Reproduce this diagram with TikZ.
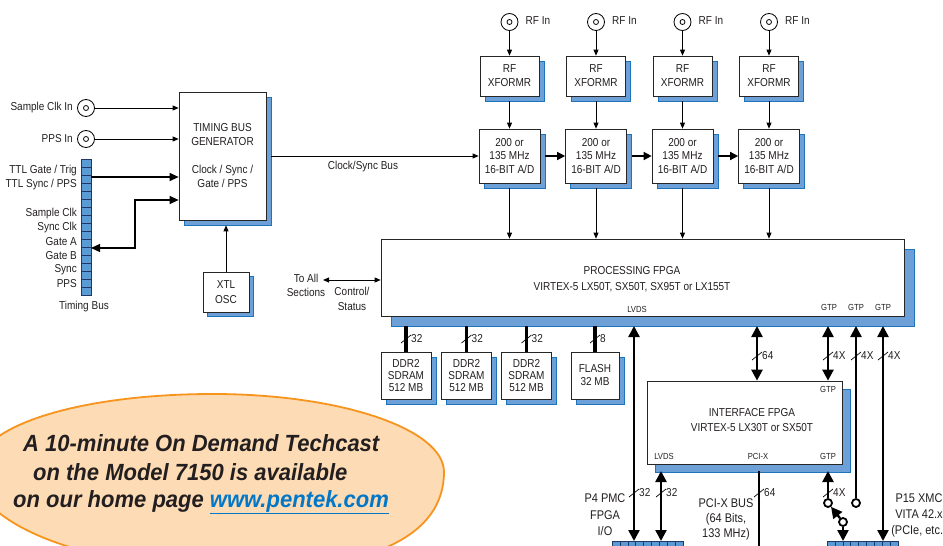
\documentclass[tikz,border=0pt]{standalone}
\usepackage{fontspec}
\setmainfont{Liberation Sans}[FakeStretch=0.87]
\newfontfamily\callfont{Liberation Sans}[FakeStretch=0.94]
\usetikzlibrary{arrows.meta,shadows,calc}
\definecolor{sblue}{RGB}{108,160,214}
\definecolor{sbord}{RGB}{28,117,188}
\definecolor{cellb}{RGB}{91,155,213}
\definecolor{celld}{RGB}{31,56,100}
\definecolor{ofill}{RGB}{253,219,180}
\definecolor{oline}{RGB}{247,148,30}
\definecolor{linkb}{RGB}{0,119,200}
\definecolor{txt}{RGB}{35,31,32}
\newcommand\mybusmark[4]{%
  \draw[line width=0.7pt] (#1-5,#2+4) -- (#1+5,#2-4);
  \node[anchor=west] (#4) at (#1+5,#2) {#3};}
\begin{document}
\begin{tikzpicture}[x=1pt,y=-1pt,
 every node/.style={font=\fontsize{11.5}{13}\selectfont,text=txt,inner sep=0pt},
 blk/.style={draw=black!85,fill=white,line width=0.7pt,align=center},
 shd/.style={drop shadow={shadow xshift=#1,shadow yshift=-#1,fill=sblue,draw=sbord,line width=0.6pt,opacity=1}},
 lbl/.style={font=\fontsize{8.8}{10}\selectfont},
 sarr/.style={line width=0.8pt,>={Triangle[length=6pt,width=5pt]}},
 marr/.style={line width=1.2pt,>={Triangle[length=9pt,width=8pt]}},
 barr/.style={line width=2.4pt,>={Triangle[length=11pt,width=11pt]}},
 dbus/.style={line width=3.6pt},
 swc/.style={circle,draw=black,line width=1.8pt,fill=white,minimum size=8pt},
 tcell/.style={draw=celld,fill=cellb,line width=0.6pt},
 conn/.style={circle,draw,line width=0.8pt,minimum size=17pt},
 callout/.style={anchor=west,font=\callfont\fontsize{23.4}{26}\selectfont\bfseries\itshape},
]
\useasboundingbox (0,0) rectangle (943,546);
\clip (0,0) rectangle (943,546);

% ---------- timing section ----------
\node[blk,shd=5pt,minimum width=87pt,minimum height=128pt,font=\fontsize{11.5}{14}\selectfont] (tbg) at (222.5,156)
  {TIMING BUS\\GENERATOR\\[14pt]Clock / Sync /\\Gate / PPS};
\node[blk,shd=4pt,minimum width=46pt,minimum height=40pt,font=\fontsize{11.5}{15}\selectfont] (xtl) at (226,292) {XTL\\OSC};
\draw[sarr,->,shorten >=5pt] (xtl.north) -- (xtl.north |- tbg.south);

\node[conn] (sci) at (86,108) {};
\draw[line width=0.8pt] (sci.center) circle (2.5pt);
\node[anchor=east] (scil) at (73,108) {Sample Clk In};
\node[conn] (ppi) at (86,139) {};
\draw[line width=0.8pt] (ppi.center) circle (2.5pt);
\node[anchor=east] (ppil) at (73,139) {PPS In};
\draw[sarr,->] (sci.east) -- (sci.east -| tbg.west);
\draw[sarr,->] (ppi.east) -- (ppi.east -| tbg.west);

\node[tcell,minimum width=10pt,minimum height=136pt] (tbus) at (86,227) {};
\foreach \k in {1,...,16} \draw[celld,line width=0.6pt] (81,159+8*\k) -- (91,159+8*\k);
\node[anchor=east] (t1) at (77,171) {TTL Gate / Trig};
\node[anchor=east] (t2) at (77,185) {TTL Sync / PPS};
\node[anchor=east] (t3) at (77,214) {Sample Clk};
\node[anchor=east] (t4) at (77,228) {Sync Clk};
\node[anchor=east] (t5) at (77,242) {Gate A};
\node[anchor=east] (t6) at (77,256) {Gate B};
\node[anchor=east] (t7) at (77,270) {Sync};
\node[anchor=east] (t8) at (77,284) {PPS};
\node (tbl) at (84,307) {Timing Bus};
\coordinate (ttl) at (91,177);
\draw[marr,->] (ttl) -- (ttl -| tbg.west);
\coordinate (gab) at (91,248);
\coordinate (gbend) at (135,200);
\draw[marr,<->] (gab) -| (gbend) -- (gbend -| tbg.west);

% ---------- processing FPGA ----------
\node[blk,shd=10pt,minimum width=523pt,minimum height=77pt] (fpga) at (642.5,277.5) {};
\node (fp1) at (632,271) {PROCESSING FPGA};
\node (fp2) at (632,287) {VIRTEX-5 LX50T, SX50T, SX95T or LX155T};
\node[lbl] (fl1) at (637,309) {LVDS};
\node[lbl] (fl2) at (829,307) {GTP};
\node[lbl] (fl3) at (856,307) {GTP};
\node[lbl] (fl4) at (883,307) {GTP};

\node[align=center,font=\fontsize{11.5}{14}\selectfont] (toall) at (306,285) {To All\\Sections};
\node[align=center,font=\fontsize{11.5}{15.5}\selectfont] (ctl) at (352,299) {Control/\\Status};
\coordinate (ta) at (323,280);
\draw[sarr,<->] (ta) -- (ta -| fpga.west);

% ---------- RF channels ----------
\foreach \i/\x in {1/509.5,2/596,3/682.5,4/769}{
  \node[conn] (rf\i) at (\x,22) {};
  \draw[line width=0.8pt] (rf\i.center) circle (2.5pt);
  \node[anchor=west] (rfl\i) at (\x+16,21) {RF In};
  \node[blk,shd=5pt,minimum width=59pt,minimum height=40pt,font=\fontsize{11.5}{14}\selectfont] (xf\i) at (\x,76) {RF\\XFORMR};
  \node[blk,shd=5pt,minimum width=61pt,minimum height=54pt,font=\fontsize{11.5}{13.5}\selectfont] (ad\i) at (\x,156) {200 or\\135 MHz\\16-BIT A/D};
  \draw[sarr,->] (rf\i) -- (xf\i);
  \draw[sarr,->,shorten <=5pt] (xf\i) -- (ad\i);
  \draw[sarr,->,shorten <=5pt] (ad\i) -- (ad\i |- fpga.north);
}
\foreach \a/\b in {1/2,2/3,3/4}
  \draw[line width=1.5pt,>={Triangle[length=8pt,width=8pt]},->,shorten <=5pt] (ad\a.east) -- (ad\b.west);
\draw[sarr,->,shorten <=5pt] (tbg.east |- ad1.west) -- (ad1.west);
\node (csb) at (363,167) {Clock/Sync Bus};

% ---------- memories ----------
\node[blk,shd=5pt,minimum width=50pt,minimum height=47pt,font=\fontsize{11.5}{12}\selectfont] (m1) at (406,375.5) {DDR2\\SDRAM\\512 MB};
\node[blk,shd=5pt,minimum width=50pt,minimum height=47pt,font=\fontsize{11.5}{12}\selectfont] (m2) at (466.5,375.5) {DDR2\\SDRAM\\512 MB};
\node[blk,shd=5pt,minimum width=50pt,minimum height=47pt,font=\fontsize{11.5}{12}\selectfont] (m3) at (526.5,375.5) {DDR2\\SDRAM\\512 MB};
\node[blk,shd=5pt,minimum width=48pt,minimum height=47pt,font=\fontsize{11.5}{13}\selectfont] (fl) at (595,375.5) {FLASH\\32 MB};
\coordinate (fb) at (0,326);
\foreach \m in {m1,m2,m3,fl} \draw[dbus] (\m.north) -- (\m.north |- fb);
\mybusmark{406}{339}{32}{k1}
\mybusmark{466.5}{339}{32}{k2}
\mybusmark{526.5}{339}{32}{k3}
\mybusmark{595}{339}{8}{k4}

% ---------- interface FPGA ----------
\node[blk,shd=8pt,minimum width=195pt,minimum height=83pt] (ifp) at (744.5,422.5) {};
\node (if1) at (752,413) {INTERFACE FPGA};
\node (if2) at (752,428) {VIRTEX-5 LX30T or SX50T};
\node[lbl] (il1) at (828,389) {GTP};
\node[lbl] (il2) at (664,456) {LVDS};
\node[lbl] (il3) at (758,456) {PCI-X};
\node[lbl] (il4) at (828,456) {GTP};

% ---------- bottom connectors ----------
\node[draw=black!25,line width=0.8pt,minimum width=130pt,minimum height=20pt] (pcibox) at (755,556) {};
\node[tcell,minimum width=71pt,minimum height=14pt] (p4) at (647.5,548) {};
\foreach \k in {1,...,8} \draw[celld,line width=0.6pt] (612+7.9*\k,541) -- (612+7.9*\k,555);
\node[tcell,minimum width=71pt,minimum height=14pt] (p15) at (862.5,548) {};
\foreach \k in {1,...,8} \draw[celld,line width=0.6pt] (827+7.9*\k,541) -- (827+7.9*\k,555);

\coordinate (sb) at (0,541);
\coordinate (ib) at (0,471);
\coordinate (lva) at (634,326);
\draw[barr,<->] (lva) -- (lva |- sb);
\coordinate (lvb) at (661,471);
\draw[barr,<->] (lvb) -- (lvb |- sb);
\coordinate (p64) at (757,326);
\draw[barr,<->] (p64) -- (p64 |- ifp.north);
\coordinate (g1) at (828,326);
\draw[barr,<->] (g1) -- (g1 |- ifp.north);
\node[swc] (s3) at (856,503) {};
\coordinate (g2) at (856,326);
\draw[barr,<-] (g2) -- (s3.north);
\coordinate (g3) at (883,326);
\draw[barr,<->] (g3) -- (g3 |- sb);
\coordinate (pcx) at (759,471);
\draw[line width=1.5pt] (pcx) -- (pcx |- pcibox.south);
\node[swc] (s1) at (828,503) {};
\node[swc] (s2) at (843,522) {};
\draw[barr,->] (s1.north) -- (s1.north |- ib);
\draw[barr,->] (s2) -- (s1);
\draw[barr,->] (s2.south) -- (s2.south |- sb);

\mybusmark{757}{356}{64}{k5}
\mybusmark{828}{356}{4X}{k6}
\mybusmark{856}{356}{4X}{k7}
\mybusmark{883}{356}{4X}{k8}
\mybusmark{634}{493}{32}{k9}
\mybusmark{661}{493}{32}{k10}
\mybusmark{759}{493}{64}{k11}
\mybusmark{828}{493}{4X}{k12}

\node[align=center,font=\fontsize{12.6}{16.5}\selectfont] (p4l) at (605,515) {P4 PMC\\FPGA\\I/O};
\node[align=center,font=\fontsize{12.6}{15}\selectfont] (pcil) at (726,519) {PCI-X BUS\\(64 Bits,\\133 MHz)};
\node[align=center,font=\fontsize{12.6}{16}\selectfont] (p15l) at (919,515) {P15 XMC\\VITA 42.x\\(PCIe, etc.)};

% ---------- techcast callout ----------
\draw[fill=ofill,draw=oline,line width=1.8pt]
  (213,394) .. controls (340.5,394) and (444,429) .. (444,472)
  .. controls (444,535.7) and (372.6,570) .. (240,570)
  .. controls (93.7,570) and (-25,526) .. (-25,472)
  .. controls (-25,425) and (81.6,394) .. (213,394) -- cycle;
\node[callout] (e1) at (23,443) {A 10-minute On Demand Techcast};
\node[callout] (e2) at (33,472) {on the Model 7150 is available};
\node[callout] (e3) at (13,502) {on our home page \textcolor{linkb}{\underline{www.pentek.com}}};
\end{tikzpicture}
\end{document}
